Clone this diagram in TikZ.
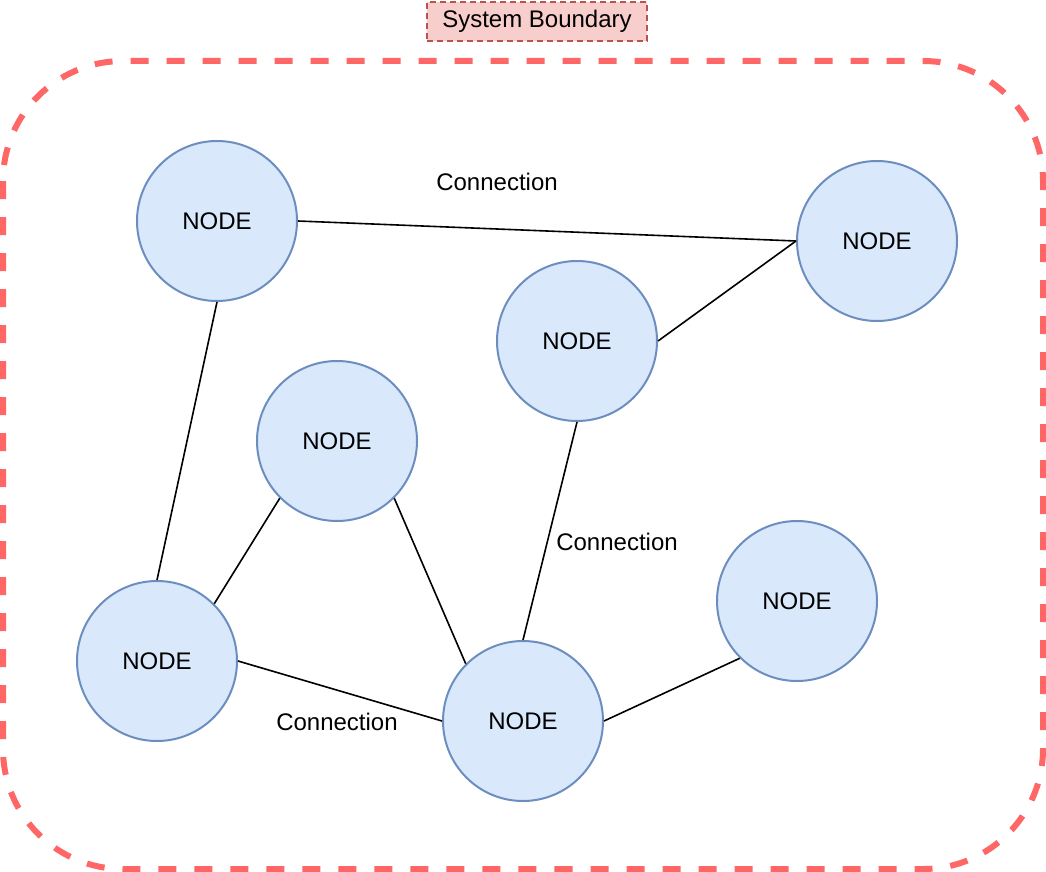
\documentclass[tikz,border=0pt]{standalone}
\usepackage{fontspec}
\setmainfont{Liberation Sans}
\definecolor{nodefill}{HTML}{DAE8FC}
\definecolor{nodeline}{HTML}{6C8EBF}
\definecolor{boundline}{HTML}{FF6666}
\definecolor{labfill}{HTML}{F8CECC}
\definecolor{labline}{HTML}{B85450}
\begin{document}
\begin{tikzpicture}[x=1pt,y=-1pt,
  netnode/.style={circle, draw=nodeline, fill=nodefill, line width=2pt, minimum size=160pt, inner sep=0pt, font=\fontsize{24}{28}\selectfont},
  link/.style={draw=black, line width=1.6pt},
  conlabel/.style={font=\fontsize{24}{28}\selectfont, inner sep=0pt},
  boundary/.style={draw=boundline, line width=6pt, dash pattern=on 18pt off 18pt, rounded corners=120pt},
  boundlabel/.style={draw=labline, fill=labfill, line width=1.5pt, dash pattern=on 6pt off 4pt, minimum width=220pt, minimum height=39pt, inner sep=0pt, font=\fontsize{24}{28}\selectfont}
]
\useasboundingbox (0,0) rectangle (1046,872);
\draw[boundary] (3,61) rectangle (1043,869);
\node[boundlabel] (title) at (537,21.5) {System Boundary};

\node[netnode] (A) at (217,221) {NODE};
\node[netnode] (B) at (877,241) {NODE};
\node[netnode] (C) at (577,341) {NODE};
\node[netnode] (D) at (337,441) {NODE};
\node[netnode] (E) at (157,661) {NODE};
\node[netnode] (F) at (523,721) {NODE};
\node[netnode] (G) at (797,601) {NODE};

\draw[link] (A.east) -- (B.west);
\draw[link] (C.east) -- (B.west);
\draw[link] (A.south) -- (E.north);
\draw[link] (D.225) -- (E.45);
\draw[link] (D.-45) -- (F.135);
\draw[link] (C.south) -- (F.north);
\draw[link] (E.east) -- (F.west);
\draw[link] (F.east) -- (G.225);

\node[conlabel] (l1) at (497,182) {Connection};
\node[conlabel] (l2) at (617,542) {Connection};
\node[conlabel] (l3) at (337,722) {Connection};
\end{tikzpicture}
\end{document}
